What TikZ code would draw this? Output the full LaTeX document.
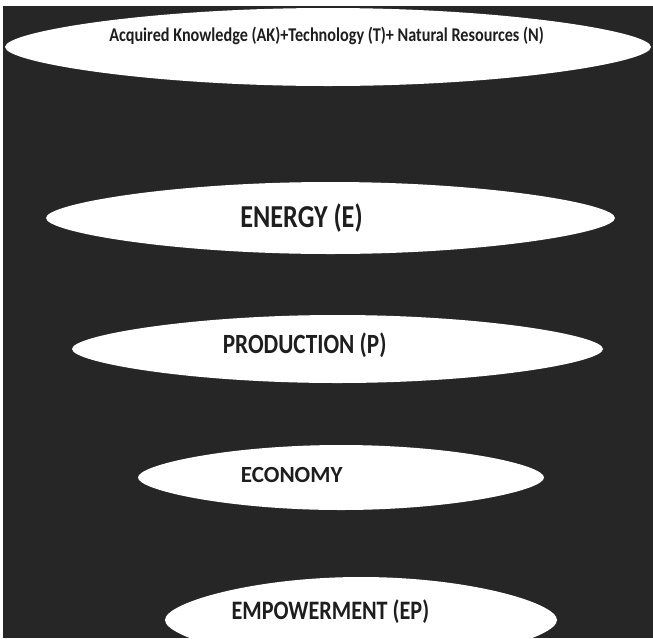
\documentclass[tikz,border=0pt]{standalone}
\usepackage{fontspec}
\setmainfont{Carlito}
\definecolor{bgdark}{HTML}{262626}
\definecolor{txtdark}{HTML}{1E1E1E}
\newcommand\lensshape[5]{% name, cx, cy, rx, ry
  \begin{scope}[shift={(#2,#3)}, xscale=#4, yscale=#5]
    \fill[white] (-1,0) .. controls (-1,-0.4) and (-0.55,-1) .. (0,-1)
      .. controls (0.55,-1) and (1,-0.4) .. (1,0)
      .. controls (1,0.4) and (0.55,1) .. (0,1)
      .. controls (-0.55,1) and (-1,0.4) .. (-1,0) -- cycle;
    \coordinate (#1) at (0,0);
  \end{scope}}
\tikzset{
  lbl/.style={anchor=base, inner sep=0pt, text=txtdark, font=\bfseries}
}
\begin{document}
\begin{tikzpicture}[x=1pt, y=-1pt]
  \useasboundingbox (0,0) rectangle (653,638);
  \fill[white] (0,0) rectangle (653,638);
  \fill[bgdark] (3,6) rectangle (653,638);
  \begin{scope}
    \clip (3,6) rectangle (653,638);
    \lensshape{e1}{328}{47}{323}{39}
    \lensshape{e2}{330.5}{218}{284.5}{36}
    \lensshape{e3}{337.5}{349}{265.5}{34}
    \lensshape{e4}{341}{477.5}{203}{32.5}
    \lensshape{e5}{361}{620}{196}{43}
  \end{scope}
  \node[lbl] (top) at (326.5,41) {\fontsize{16.2}{19}\selectfont\scalebox{1}[1.2]{Acquired Knowledge (AK)+Technology (T)+ Natural Resources (N)}};
  \node[lbl] (energy) at (301.5,227) {\fontsize{26.2}{30}\selectfont\scalebox{1}[1.22]{ENERGY (E)}};
  \node[lbl] (production) at (304.7,353) {\fontsize{23.2}{27}\selectfont\scalebox{1}[1.2]{PRODUCTION (P)}};
  \node[lbl] (economy) at (291.7,482.3) {\fontsize{23.1}{27}\selectfont ECONOMY};
  \node[lbl] (empower) at (330.4,619) {\fontsize{22.2}{26}\selectfont\scalebox{1}[1.2]{EMPOWERMENT (EP)}};
\end{tikzpicture}
\end{document}
